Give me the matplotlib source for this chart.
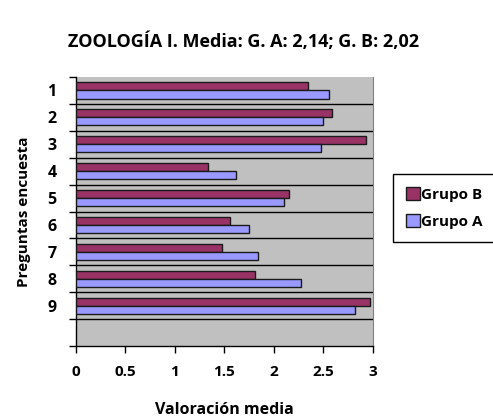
import numpy as np
import matplotlib
matplotlib.use('Agg')
import matplotlib.pyplot as plt
from matplotlib.patches import Rectangle

plt.rcParams['font.family'] = ['Open Sans', 'DejaVu Sans']

preguntas = ['1', '2', '3', '4', '5', '6', '7', '8', '9']
grupo_b = [2.34, 2.59, 2.93, 1.33, 2.15, 1.56, 1.47, 1.81, 2.97]
grupo_a = [2.56, 2.50, 2.47, 1.62, 2.10, 1.75, 1.84, 2.27, 2.82]
x_ticks = [0, 0.5, 1, 1.5, 2, 2.5, 3]
x_ticklabels = ['0', '0.5', '1', '1.5', '2', '2.5', '3']
titulo = 'ZOOLOGÍA I. Media: G. A: 2,14; G. B: 2,02'

W, H = 493, 418
fig = plt.figure(figsize=(W / 100, H / 100), dpi=100)
ax = fig.add_axes([76 / W, 1 - 346 / H, 297 / W, 269 / H])
ax.set_facecolor('#C0C0C0')

n_cat = len(preguntas) + 1  # one empty slot at the bottom, as in the original
pos = np.arange(len(preguntas))
h = 0.3
ax.barh(pos - h / 2, grupo_b, height=h, color='#993366', edgecolor='#1a1a1a',
        linewidth=1.0, label='Grupo B', zorder=3)
ax.barh(pos + h / 2, grupo_a, height=h, color='#9999FF', edgecolor='#1a1a1a',
        linewidth=1.0, label='Grupo A', zorder=3)

ax.set_ylim(n_cat - 0.5, -0.5)
ax.set_xlim(0, 3)

# category boundaries: ticks + horizontal grid
bounds = np.arange(-0.5, n_cat, 1.0)
ax.set_yticks(bounds, minor=True)
ax.set_yticks(pos)
ax.set_yticklabels(preguntas, fontsize=11.5, fontweight='bold')
ax.tick_params(axis='y', which='major', length=0, pad=14)
ax.tick_params(axis='y', which='minor', length=5, width=1, direction='out')
for b in bounds[1:-1]:
    ax.axhline(b, color='black', linewidth=1.0, zorder=1)

ax.set_xticks(x_ticks)
ax.set_xticklabels(x_ticklabels, fontsize=11, fontweight='bold')
ax.tick_params(axis='x', length=5, width=1, direction='out', pad=9)

for side in ['left', 'bottom']:
    ax.spines[side].set_color('black')
    ax.spines[side].set_linewidth(1.0)
ax.spines['top'].set_visible(False)
ax.spines['right'].set_color('#808080')

ax.set_xlabel('Valoración media', fontsize=11.5, fontweight='bold', labelpad=16)
ax.set_ylabel('Preguntas encuesta', fontsize=11, fontweight='bold', labelpad=12)

fig.text(244 / W, 1 - 42 / H, titulo, ha='center', va='center',
         fontsize=13, fontweight='bold')

# legend frame runs off the right edge in the original
fig.patches.append(Rectangle((393 / W, 1 - 242 / H), 120 / W, 68 / H,
                             transform=fig.transFigure, facecolor='white',
                             edgecolor='black', linewidth=1.0, zorder=-1))
leg = ax.legend(loc='center left', bbox_to_anchor=(406 / W, 1 - 208 / H),
                bbox_transform=fig.transFigure, frameon=False,
                prop={'weight': 'bold', 'size': 11}, handlelength=0.9,
                handleheight=0.9, handletextpad=0.1, borderpad=0,
                labelspacing=0.8, borderaxespad=0)

plt.savefig('out.png', dpi=100)
